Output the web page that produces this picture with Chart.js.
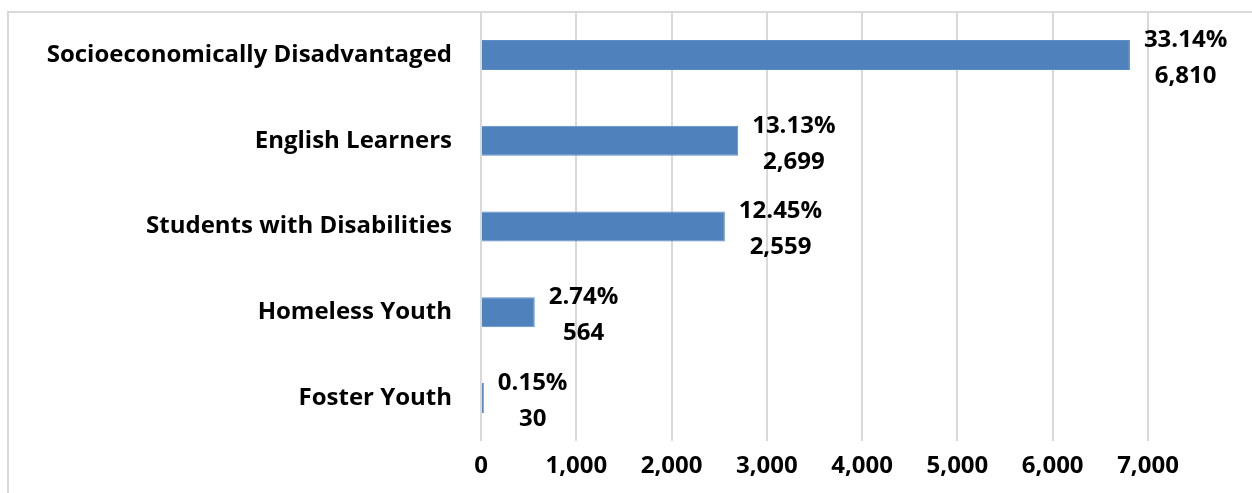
<!DOCTYPE html>
<html>
<head>
<meta charset="utf-8">
<script src="https://cdn.jsdelivr.net/npm/chart.js@4"></script>
<style>
  html, body { margin: 0; padding: 0; background: #fff; }
  #wrap { width: 1252px; height: 493px; position: relative; }
</style>
</head>
<body>
<div id="wrap"><canvas id="groupsChart"></canvas></div>
<script>
const categories = [
  "Socioeconomically Disadvantaged",
  "English Learners",
  "Students with Disabilities",
  "Homeless Youth",
  "Foster Youth",
];
const counts = [6810, 2699, 2559, 564, 30];
const percents = ["33.14%", "13.13%", "12.45%", "2.74%", "0.15%"];
const xTicks = [0, 1000, 2000, 3000, 4000, 5000, 6000, 7000];

const FONT = "'Open Sans', sans-serif";
const FONT_SIZE = 24;

// outer frame of the original chart box (cut off at right and bottom)
const framePlugin = {
  id: "frame",
  beforeDraw(chart) {
    const c = chart.ctx;
    c.save();
    c.strokeStyle = "#d9d9d9";
    c.lineWidth = 2;
    c.beginPath();
    c.moveTo(8, chart.height);
    c.lineTo(8, 12);
    c.lineTo(chart.width, 12);
    c.stroke();
    c.restore();
  },
};

// two-line value labels to the right of each bar
const valueLabels = {
  id: "valueLabels",
  afterDatasetsDraw(chart) {
    const c = chart.ctx;
    const meta = chart.getDatasetMeta(0);
    c.save();
    c.font = "bold " + FONT_SIZE + "px " + FONT;
    c.fillStyle = "#000";
    c.textAlign = "center";
    c.textBaseline = "middle";
    meta.data.forEach((bar, i) => {
      const w = c.measureText(percents[i]).width;
      const x = bar.x + 14 + w / 2;
      c.fillText(percents[i], x, bar.y - 15);
      c.fillText(counts[i].toLocaleString("en-US"), x, bar.y + 21);
    });
    c.restore();
  },
};

new Chart(document.getElementById("groupsChart"), {
  type: "bar",
  data: {
    labels: categories,
    datasets: [
      {
        data: counts,
        backgroundColor: "#4F81BD",
        borderColor: "#5B8CC8",
        borderWidth: 1,
        categoryPercentage: 1,
        barPercentage: 0.35,
      },
    ],
  },
  options: {
    indexAxis: "y",
    responsive: true,
    maintainAspectRatio: false,
    animation: false,
    layout: { padding: { top: 12, right: 104, left: 0, bottom: 0 } },
    plugins: {
      legend: { display: false },
      tooltip: { enabled: false },
    },
    scales: {
      x: {
        min: 0,
        max: 7000,
        afterBuildTicks: (scale) => {
          scale.ticks = xTicks.map((v) => ({ value: v }));
        },
        afterFit: (scale) => {
          scale.height = 52;
          scale.paddingLeft = 0;
          scale.paddingRight = 0;
        },
        grid: { color: "#d9d9d9", lineWidth: 2, drawTicks: false },
        border: { display: false },
        ticks: {
          padding: 11,
          color: "#000",
          font: { family: FONT, size: FONT_SIZE, weight: "bold" },
          callback: (v) => Number(v).toLocaleString("en-US"),
        },
      },
      y: {
        afterFit: (scale) => {
          scale.width = 481;
          scale.paddingTop = 0;
          scale.paddingBottom = 0;
        },
        grid: { display: false, drawTicks: false },
        border: { display: false },
        ticks: {
          padding: 29,
          color: "#000",
          font: { family: FONT, size: FONT_SIZE, weight: "bold" },
        },
      },
    },
  },
  plugins: [framePlugin, valueLabels],
});
</script>
</body>
</html>
